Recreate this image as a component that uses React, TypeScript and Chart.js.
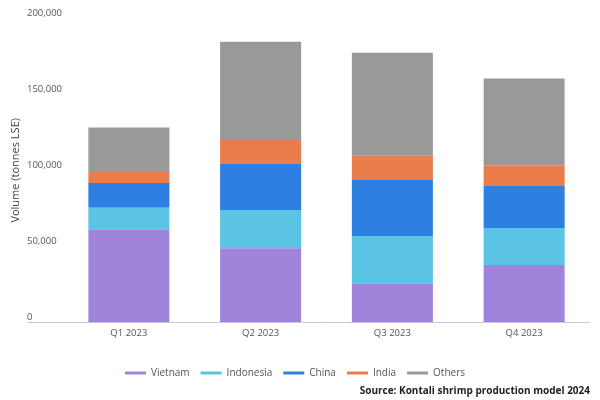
import React, { useEffect, useRef } from "react";
import { Chart, registerables } from "chart.js";

Chart.register(...registerables);

const categories = ["Q1 2023", "Q2 2023", "Q3 2023", "Q4 2023"];
const vietnam = [61200, 48900, 25900, 37900];
const indonesia = [14200, 25000, 30900, 24200];
const china = [16300, 30500, 36800, 27600];
const india = [7200, 16200, 16000, 13600];
const others = [29200, 63800, 67600, 57000];
const seriesNames = ["Vietnam", "Indonesia", "China", "India", "Others"];
const seriesColors = ["#a084dc", "#5bc3e3", "#2e7fe2", "#e97d4c", "#999999"];
const yMin = 0;
const yMax = 200000;
const yStep = 50000;
const yTitle = "Volume (tonnes LSE)";
const sourceText = "Source: Kontali shrimp production model 2024";

const FONT = "'Open Sans', sans-serif";

export default function App() {
  const ref = useRef<HTMLCanvasElement | null>(null);

  useEffect(() => {
    if (!ref.current) return;
    const seriesValues = [vietnam, indonesia, china, india, others];
    const chart = new Chart(ref.current, {
      type: "bar",
      data: {
        labels: categories,
        datasets: seriesNames.map((name, i) => ({
          label: name,
          data: seriesValues[i],
          backgroundColor: seriesColors[i],
          borderWidth: 0,
          yAxisID: "y",
          categoryPercentage: 1,
          barPercentage: 0.615,
        })),
      },
      options: {
        animation: false,
        responsive: true,
        maintainAspectRatio: false,
        layout: { padding: { top: 18, right: 10, bottom: 0, left: 0 } },
        scales: {
          y: {
            stacked: true,
            min: yMin,
            max: yMax,
            position: "left",
            weight: 0,
            afterFit: (s: any) => {
              s.width = 36;
            },
            border: { display: false },
            grid: {
              drawOnChartArea: true,
              drawTicks: true,
              tickLength: 36,
              color: (ctx: any) => (ctx.tick && ctx.tick.value === 0 ? "#cdc9d6" : "rgba(0,0,0,0)"),
              lineWidth: 1,
            },
            ticks: {
              stepSize: yStep,
              crossAlign: "far",
              labelOffset: -5,
              color: "#555555",
              font: { family: FONT, size: 9.5 },
              callback: (v: any) => Number(v).toLocaleString("en-US"),
            },
          },
          yTitle: {
            type: "linear",
            position: "left",
            display: true,
            weight: 1,
            afterFit: (s: any) => {
              s.width = 27;
            },
            border: { display: false },
            grid: { display: false, drawTicks: false },
            ticks: { display: false },
            title: {
              display: true,
              text: yTitle,
              color: "#444444",
              font: { family: FONT, size: 11 },
              padding: { top: 9, bottom: 0 },
            },
          },
          x: {
            stacked: true,
            border: { display: false },
            grid: { display: false, drawTicks: false },
            afterFit: (s: any) => {
              s.height += 13;
            },
            ticks: {
              padding: 5,
              color: "#555555",
              font: { family: FONT, size: 9.5 },
            },
          },
        },
        plugins: {
          tooltip: { enabled: false },
          legend: {
            position: "bottom",
            labels: {
              boxWidth: 21,
              boxHeight: 3,
              padding: 11,
              color: "#555555",
              font: { family: FONT, size: 10 },
            },
          },
          title: {
            display: true,
            text: sourceText,
            position: "bottom",
            align: "end",
            color: "#222222",
            font: { family: FONT, size: 10, weight: "bold" },
            padding: { top: -3, bottom: 3 },
          },
        },
      },
    });
    return () => chart.destroy();
  }, []);

  return (
    <div style={{ position: "fixed", left: 0, top: 0, width: 600, height: 400, background: "#ffffff" }}>
      <canvas ref={ref} />
    </div>
  );
}
